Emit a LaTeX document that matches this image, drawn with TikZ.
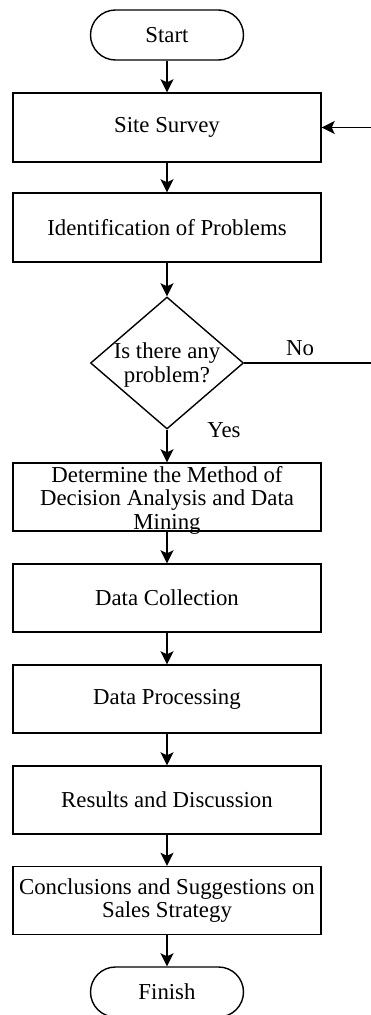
\documentclass[tikz,border=0pt]{standalone}
\usepackage{fontspec}
\setmainfont{Liberation Serif}
\usetikzlibrary{shapes.geometric,arrows.meta}
\begin{document}
\begin{tikzpicture}[x=1pt,y=-1pt,
  every node/.style={font=\fontsize{22.8}{23.5}\selectfont},
  procbox/.style={draw, line width=1.4pt, rectangle, minimum width=308pt, minimum height=68pt, inner sep=0pt, align=center},
  termbox/.style={draw, line width=1.4pt, rectangle, rounded corners=25pt, minimum width=153pt, minimum height=50pt, inner sep=0pt},
  decbox/.style={draw, line width=1.4pt, diamond, minimum width=153pt, minimum height=132pt, inner sep=0pt},
  flow/.style={line width=1.7pt, -{Stealth[length=13pt,width=13pt,inset=3pt]}},
  lbl/.style={inner sep=0pt}
]
\useasboundingbox (0,0) rectangle (371,1015);
\node[termbox] (start) at (167,35) {Start};
\node[procbox, minimum height=69pt] (site) at (167,127.5) {Site Survey};
\node[procbox, minimum height=69pt] (ident) at (167,227.5) {Identification of Problems};
\node[decbox] (dec) at (167,363) {};
\node[align=center, inner sep=0pt] (dect) at (167,365) {Is there any\\problem?};
\node[procbox] (det) at (167,497) {};
\node[align=center, inner sep=0pt] (dett) at (167,500) {Determine the Method of\\Decision Analysis and Data\\Mining};
\node[procbox] (dc) at (167,598) {Data Collection};
\node[procbox] (dp) at (167,699) {Data Processing};
\node[procbox] (res) at (167,800) {Results and Discussion};
\node[procbox] (conc) at (167,900.5) {Conclusions and Suggestions on\\Sales Strategy};
\node[termbox] (fin) at (167,992) {Finish};

\coordinate (nocorner) at (385,363);
\draw[flow] (start) -- (site);
\draw[flow] (site) -- (ident);
\draw[flow] (ident) -- (dec);
\draw[flow] (dec) -- (det);
\draw[flow] (det) -- (dc);
\draw[flow] (dc) -- (dp);
\draw[flow] (dp) -- (res);
\draw[flow] (res) -- (conc);
\draw[flow] (conc) -- (fin);
\draw[flow] (dec.east) -- (nocorner) |- (site.east);

\node[lbl] (nolbl) at (300,348) {No};
\node[lbl] (yeslbl) at (224,430) {Yes};
\end{tikzpicture}
\end{document}
